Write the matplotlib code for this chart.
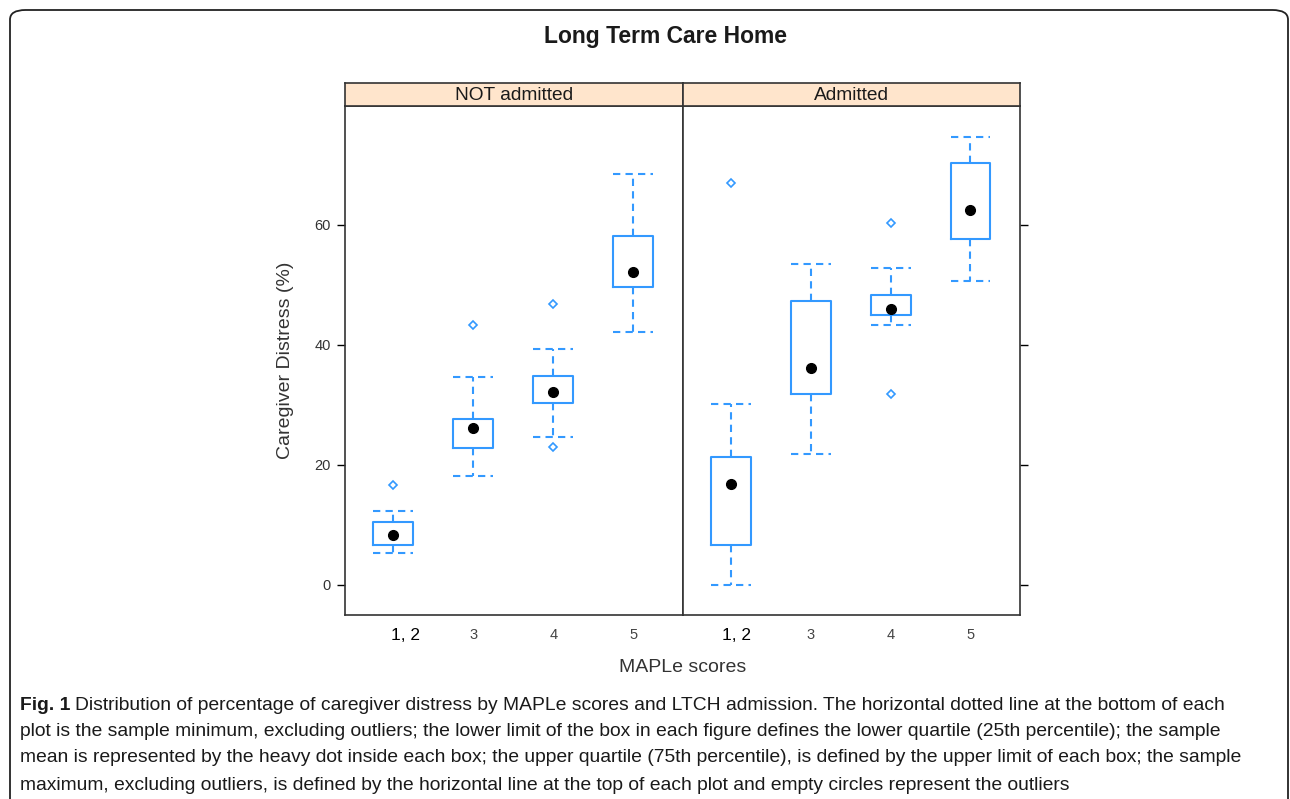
import numpy as np
import matplotlib
matplotlib.use("Agg")
import matplotlib.pyplot as plt
from matplotlib import font_manager
from matplotlib.patches import FancyBboxPatch

# data
groups = ["NOT admitted", "Admitted"]
categories = ["1, 2", "3", "4", "5"]

not_wlo = [5.3, 18.2, 24.7, 42.2]
not_q1 = [6.7, 22.9, 30.3, 49.6]
not_mid = [8.3, 26.1, 32.1, 52.1]
not_q3 = [10.5, 27.6, 34.9, 58.2]
not_whi = [12.3, 34.6, 39.3, 68.4]
not_out = [[16.7], [43.3], [46.8, 23.0], []]

adm_wlo = [0.0, 21.9, 43.3, 50.6]
adm_q1 = [6.7, 31.9, 44.9, 57.6]
adm_mid = [16.8, 36.1, 46.0, 62.4]
adm_q3 = [21.4, 47.3, 48.3, 70.3]
adm_whi = [30.1, 53.4, 52.8, 74.7]
adm_out = [[66.9], [], [60.3, 31.8], []]

yticks = [0, 20, 40, 60]

W, H = 1290, 799
BLUE = "#3399ff"


def has_font(name):
    try:
        font_manager.findfont(name, fallback_to_default=False)
        return True
    except Exception:
        return False


SANS = "Liberation Sans" if has_font("Liberation Sans") else "DejaVu Sans"
plt.rcParams["font.family"] = [SANS, "DejaVu Sans"]

fig = plt.figure(figsize=(W / 100, H / 100), dpi=100)


def fx(px):
    return px / W


def fy(py):
    return 1 - py / H


# outer rounded frame
frame = FancyBboxPatch((fx(10), fy(830)), fx(1278), (830 - 10) / H,
                       boxstyle="round,pad=0,rounding_size=0.012",
                       transform=fig.transFigure, fill=False,
                       edgecolor="#222222", linewidth=1.3)
fig.patches.append(frame)

fig.text(fx(665), fy(37), "Long Term Care Home", ha="center", va="center",
         fontsize=16.5, fontweight="bold", color="#1a1a1a")

panels = [
    (345, 683, not_wlo, not_q1, not_mid, not_q3, not_whi, not_out),
    (683, 1020, adm_wlo, adm_q1, adm_mid, adm_q3, adm_whi, adm_out),
]
label_shift = [0.15, 0.07]
top, strip_bot, bot = 83, 106, 615

for i, (x0, x1, wlo, q1, mid, q3, whi, outs) in enumerate(panels):
    ax = fig.add_axes([fx(x0), fy(bot), fx(x1 - x0), (bot - strip_bot) / H])
    stats = []
    for k in range(len(categories)):
        stats.append(dict(whislo=wlo[k], q1=q1[k], med=mid[k], q3=q3[k],
                          whishi=whi[k], fliers=outs[k]))
    ax.bxp(stats, positions=range(1, 5), widths=0.5, capwidths=0.5,
           showfliers=True, patch_artist=False,
           boxprops=dict(color=BLUE, linewidth=1.5),
           whiskerprops=dict(color=BLUE, linewidth=1.5, linestyle=(0, (3.5, 2.5))),
           capprops=dict(color=BLUE, linewidth=1.5, linestyle=(0, (3.5, 2.5))),
           medianprops=dict(linestyle="none"),
           flierprops=dict(marker="D", markersize=4.5, markerfacecolor="white",
                           markeredgecolor=BLUE, markeredgewidth=1.2))
    ax.plot(range(1, 5), mid, "o", color="black", markersize=7, zorder=5)
    ax.set_xlim(0.4, 4.62)
    ax.set_ylim(-5, 79.8)
    ax.set_xticks(range(1, 5))
    ax.set_xticklabels([])
    ax.tick_params(axis="x", length=0)
    ax.set_yticks(yticks)
    if i == 0:
        ax.tick_params(axis="y", left=True, right=False, labelleft=True,
                       length=6, width=1, labelsize=10.5, pad=4,
                       labelcolor="#333333")
    else:
        ax.tick_params(axis="y", left=False, right=True, labelleft=False,
                       labelright=False, length=6, width=1)
    for s in ax.spines.values():
        s.set_color("#333333")
        s.set_linewidth(1.2)

    # x tick labels, "1, 2" stands out
    for k, lab in enumerate(categories):
        if k == 0:
            ax.text(k + 1 + label_shift[i], -0.04, lab,
                    transform=ax.get_xaxis_transform(),
                    ha="center", va="center", fontsize=12.5, color="black")
        else:
            ax.text(k + 1, -0.04, lab, transform=ax.get_xaxis_transform(),
                    ha="center", va="center", fontsize=10.5, color="#444444")

    sax = fig.add_axes([fx(x0), fy(strip_bot), fx(x1 - x0), (strip_bot - top) / H])
    sax.set_facecolor("#ffe5cc")
    sax.set_xticks([])
    sax.set_yticks([])
    for s in sax.spines.values():
        s.set_color("#333333")
        s.set_linewidth(1.2)
    sax.text(0.5, 0.45, groups[i], ha="center", va="center", fontsize=13.8,
             color="#1a1a1a", transform=sax.transAxes)

fig.text(fx(285), fy(360), "Caregiver Distress (%)", rotation=90,
         ha="center", va="center", fontsize=14, color="#333333")
fig.text(fx(683), fy(667), "MAPLe scores", ha="center", va="center",
         fontsize=14, color="#333333")

# caption
cap_lines = [
    "Distribution of percentage of caregiver distress by MAPLe scores and LTCH admission. The horizontal dotted line at the bottom of each",
    "plot is the sample minimum, excluding outliers; the lower limit of the box in each figure defines the lower quartile (25th percentile); the sample",
    "mean is represented by the heavy dot inside each box; the upper quartile (75th percentile), is defined by the upper limit of each box; the sample",
    "maximum, excluding outliers, is defined by the horizontal line at the top of each plot and empty circles represent the outliers",
]
cap_size = 13.9
fig.canvas.draw()
r = fig.canvas.get_renderer()
bold = fig.text(fx(20), fy(705), "Fig. 1", ha="left", va="center",
                fontsize=cap_size, fontweight="bold", color="#1a1a1a")
bw = bold.get_window_extent(r).width
ys = [705, 732, 758, 785]
for j, line in enumerate(cap_lines):
    x = 20 + (bw + 5 if j == 0 else 0)
    fig.text(fx(x), fy(ys[j]), line, ha="left", va="center",
             fontsize=cap_size, color="#1a1a1a")

fig.savefig("out.png", dpi=100)
